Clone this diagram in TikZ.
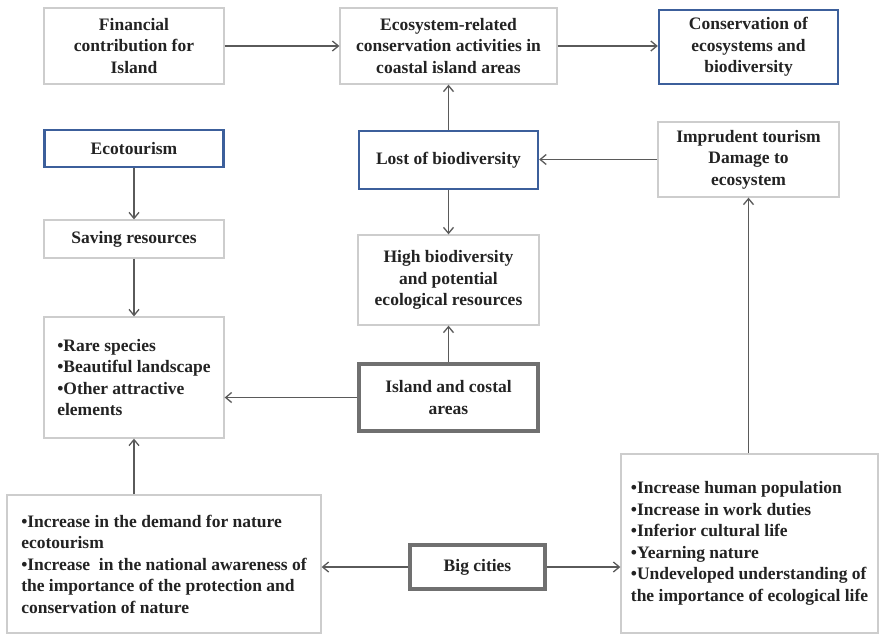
\documentclass[tikz,border=0pt]{standalone}
\usepackage{fontspec}
\setmainfont{Liberation Serif}
\usepackage{tikz}
\usetikzlibrary{arrows.meta}

\definecolor{boxgray}{RGB}{205,205,205}
\definecolor{boxblue}{RGB}{60,95,155}
\definecolor{thickgray}{RGB}{112,112,112}
\definecolor{arrgray}{RGB}{90,90,90}
\definecolor{txtgray}{RGB}{35,35,35}

\tikzset{
  box/.style={draw=boxgray, line width=1.3pt, fill=white, inner sep=0pt, align=center,
    text=txtgray, font=\fontsize{17.5}{21.5}\selectfont\bfseries},
  bluebox/.style={box, draw=boxblue, line width=2.4pt},
  thickbox/.style={box, draw=thickgray, line width=4.5pt},
  listbox/.style={box, align=left},
  arr/.style={draw=arrgray, line width=1.3pt, -{Straight Barb[length=6pt,width=10pt]}}
}

\begin{document}
\begin{tikzpicture}[x=1pt, y=-1pt]
\fill[white] (0,0) rectangle (880,635);
\useasboundingbox (0,0) rectangle (880,635);

% top row
\node[box, minimum width=180, minimum height=76] (fin) at (134,46) {Financial\\contribution for\\Island};
\node[box, minimum width=217, minimum height=76] (ecoact) at (448.5,46) {Ecosystem-related\\conservation activities in\\coastal island areas};
\node[bluebox, minimum width=179, minimum height=74] (cons) at (748.5,47) {Conservation of\\ecosystems and\\biodiversity};

% second row
\node[bluebox, minimum width=179, minimum height=37] (ecot) at (134,148.5) {Ecotourism};
\node[bluebox, minimum width=179, minimum height=58] (lost) at (448.5,160) {Lost of biodiversity};
\node[box, minimum width=181, minimum height=75] (impr) at (748.5,159.5) {Imprudent tourism\\Damage to\\ecosystem};

% middle
\node[box, minimum width=180, minimum height=38] (saving) at (134,239) {Saving resources};
\node[box, minimum width=181, minimum height=90] (high) at (448.5,280) {High biodiversity\\and potential\\ecological resources};
\node[listbox, minimum width=180, minimum height=121] (rare) at (134,377.5)
  {•Rare species\\•Beautiful landscape\\•Other attractive\\elements};
\node[thickbox, minimum width=179, minimum height=67] (island) at (448.5,397.5) {Island and costal\\areas};

% bottom row
\node[listbox, minimum width=314, minimum height=138] (demand) at (164,564)
  {•Increase in the demand for nature\\ecotourism\\•Increase\ \ in the national awareness of\\the importance of the protection and\\conservation of nature};
\node[thickbox, minimum width=135, minimum height=44] (big) at (477.5,567) {Big cities};
\node[listbox, minimum width=257, minimum height=179] (human) at (749.5,543.5)
  {•Increase human population\\•Increase in work duties\\•Inferior cultural life\\•Yearning nature\\•Undeveloped understanding of\\the importance of ecological life};

% arrows
\draw[arr] (fin.east) -- (fin.east -| ecoact.west);
\draw[arr] (ecoact.east) -- (ecoact.east -| cons.west);
\draw[arr] (lost.north) -- (ecoact.south);
\draw[arr] (impr.west) -- (impr.west -| lost.east);
\draw[arr] (lost.south) -- (high.north);
\draw[arr] (ecot.south) -- (saving.north);
\draw[arr] (saving.south) -- (rare.north);
\draw[arr] (island.north) -- (high.south);
\draw[arr] (island.west) -- (island.west -| rare.east);
\draw[arr] (rare.south |- demand.north) -- (rare.south);
\draw[arr] (big.west) -- (big.west -| demand.east);
\draw[arr] (big.east) -- (big.east -| human.west);
\draw[arr] (impr.south |- human.north) -- (impr.south);

\end{tikzpicture}
\end{document}
